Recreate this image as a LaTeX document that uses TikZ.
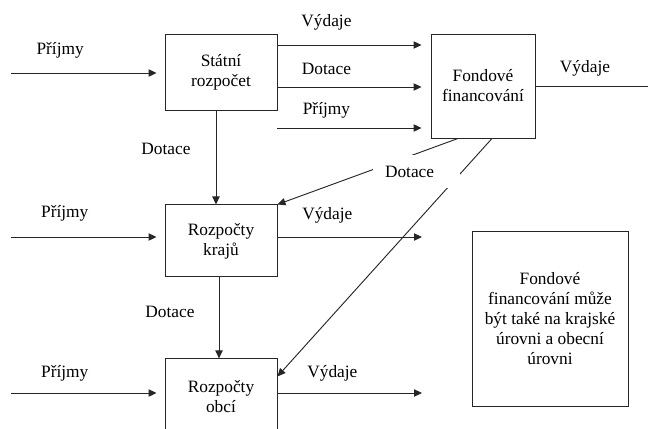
\documentclass[tikz,border=0pt]{standalone}
\usepackage{fontspec}
\setmainfont{Liberation Serif}
\usetikzlibrary{positioning}
\usetikzlibrary{arrows.meta}
\def\linecol{black!85}
\tikzset{
	box/.style={draw=\linecol,line width=0.7pt,align=center,inner sep=0pt},
	flow/.style={draw=\linecol,line width=0.7pt,-{Triangle[length=6pt,width=5.5pt]}},
	plain/.style={draw=\linecol,line width=0.7pt}}

\begin{document}
\begin{tikzpicture}[x=0.75pt,y=-0.75pt,font=\fontsize{13}{15}\selectfont]
\useasboundingbox (0,0) rectangle (648,428);
% budgets
\node [box,minimum width=84pt,minimum height=57pt] (statni) at (221,72) {Státní\\rozpočet};
\node [box,minimum width=84pt,minimum height=54pt,below=70.5pt of statni] (kraje) {Rozpočty\\krajů};
\node [box,minimum width=84pt,minimum height=57pt,below=60.75pt of kraje] (obce) {Rozpočty\\obcí};
\node [box,minimum width=78pt,minimum height=78pt] (fond) at (483,86) {Fondové\\financování};
\node [box,minimum width=117pt,minimum height=131.25pt] (pozn) at (550,318.5)
	{Fondové\\financování může\\být také na krajské\\úrovni a obecní\\úrovni};
% free ends
\coordinate (in1) at (11,73);
\coordinate (in2) at (11,237);
\coordinate (in3) at (11,393);
\coordinate (out1) at (648,86);
\coordinate (out2) at (422,237);
\coordinate (out3) at (422,393);
% incomes
\draw[flow,shorten >=6pt] (in1) -- node [pos=.32,yshift=17pt] {Příjmy} (in1 -| statni.west);
\draw[flow,shorten >=6pt] (in2) -- node [pos=.35,yshift=18pt] {Příjmy} (in2 -| kraje.west);
\draw[flow,shorten >=6pt] (in3) -- node [pos=.35,yshift=15pt] {Příjmy} (in3 -| obce.west);
% state budget to funds
\draw[flow,shorten >=6.75pt] (statni.east |- 0,45) -- node [pos=.32,yshift=17pt] {Výdaje} (fond.west |- 0,45);
\draw[flow,shorten >=6.75pt] (statni.east |- 0,87) -- node [pos=.32,yshift=13.5pt] {Dotace} (fond.west |- 0,87);
\draw[flow,shorten >=6.75pt] (statni.east |- 0,128) -- node [pos=.32,yshift=13.5pt] {Příjmy} (fond.west |- 0,128);
\draw[plain] (fond.east) -- node [pos=.44,yshift=13.5pt] {Výdaje} (out1);
% expenses
\draw[flow] (kraje.east |- out2) -- node [pos=.345,yshift=16.5pt] {Výdaje} (out2);
\draw[flow] (obce.east |- out3) -- node [pos=.38,yshift=15pt] {Výdaje} (out3);
% grants down
\draw[flow] ([xshift=-3.75pt]statni.south) -- node [pos=.41,xshift=-37.5pt] {Dotace} ([xshift=-3.75pt]kraje.north);
\draw[flow] ([xshift=-1.5pt]kraje.south) -- node [pos=.42,xshift=-36.75pt] {Dotace} ([xshift=-1.5pt]obce.north);
% grants from funds
\draw[flow] ([xshift=-18.75pt]fond.south) -- (kraje.north east);
\draw[flow] ([xshift=6.75pt]fond.south) -- ([yshift=-13.5pt]obce.north east);
\node [fill=white,inner xsep=9pt,inner ysep=0pt,text width=47.25pt,minimum height=24.75pt,align=left] (dot) at (416.5,171.5) {Dotace};
\end{tikzpicture}
\end{document}
